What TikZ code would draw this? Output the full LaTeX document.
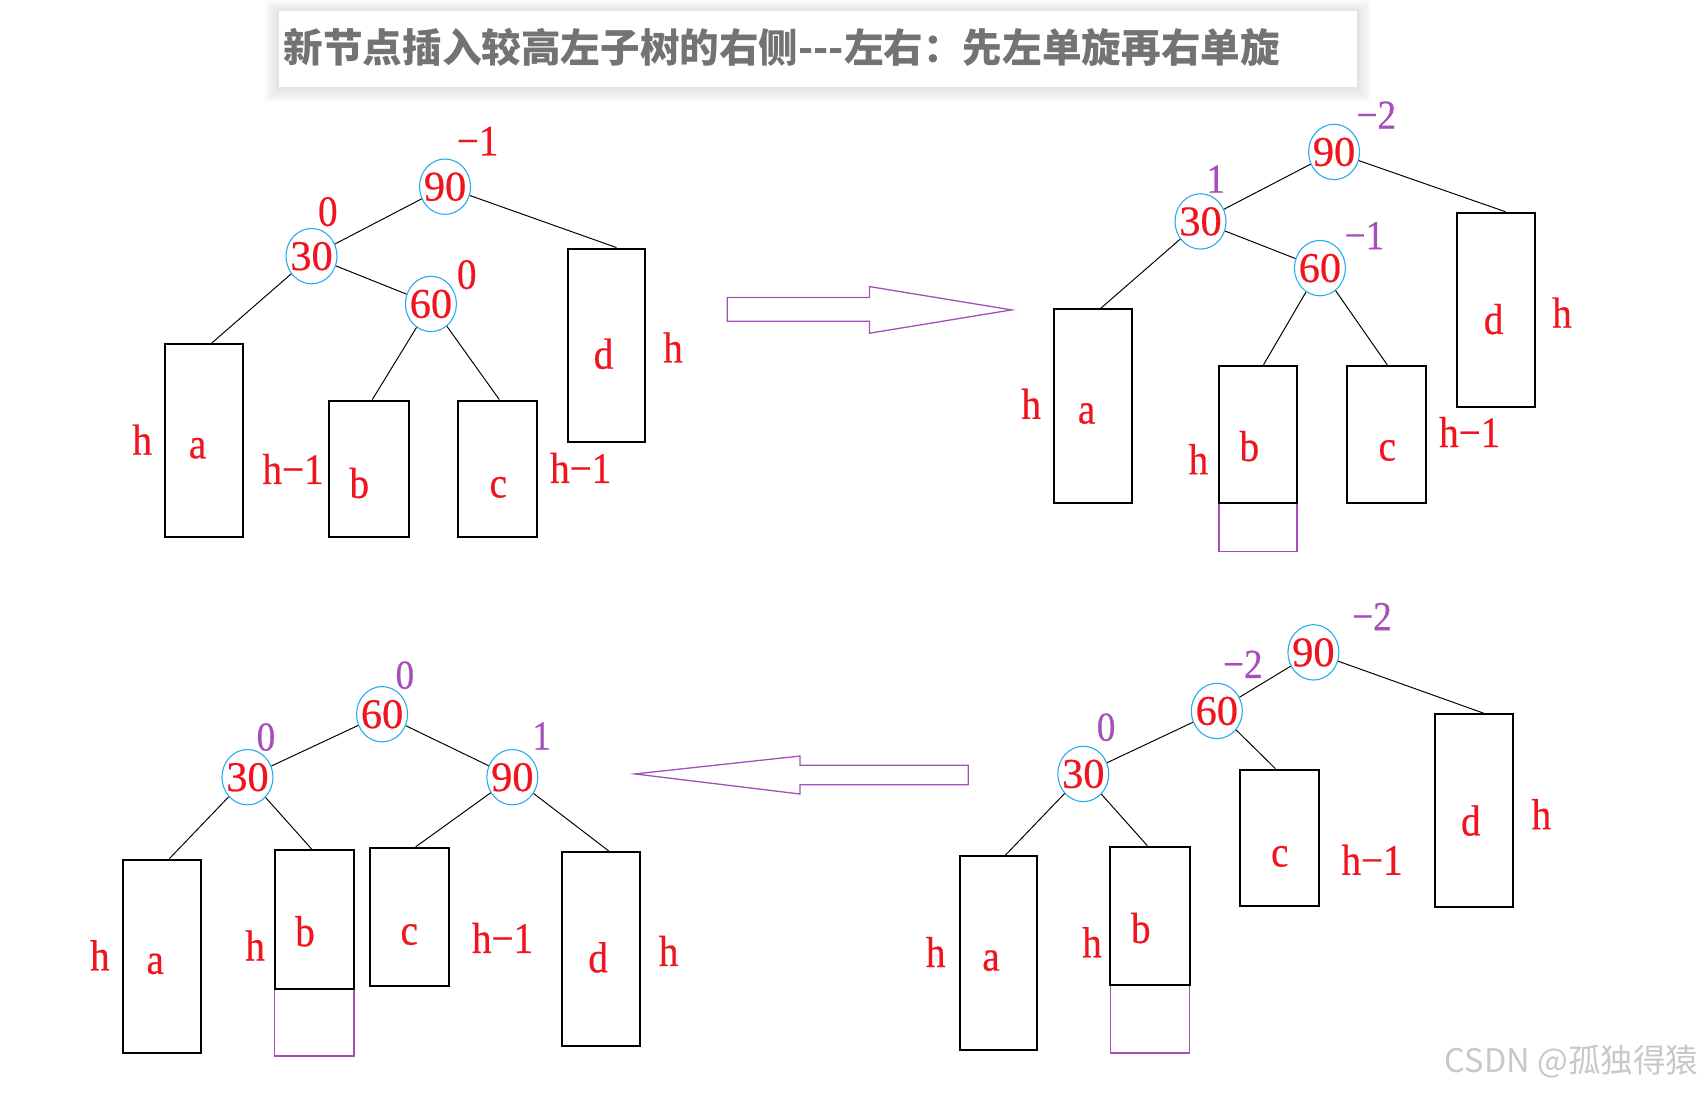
\documentclass[tikz,border=0pt]{standalone}
\usepackage{fontspec}
\newfontfamily\tf{Liberation Serif}[FakeStretch=0.9,FakeBold=0.5]
\newfontfamily\df{Liberation Serif}[FakeBold=0.5]
\newfontfamily\cjk{Noto Sans CJK SC}
\usetikzlibrary{shapes.geometric,calc}
\definecolor{tred}{RGB}{240,20,30}
\definecolor{tblue}{RGB}{40,170,235}
\definecolor{tpurple}{RGB}{165,80,185}
\definecolor{tgray}{RGB}{115,115,115}
\definecolor{wm}{RGB}{200,200,200}
\tikzset{
  num/.style={ellipse, draw=tblue, line width=1pt, minimum width=47, minimum height=51, inner sep=0pt, text=tred, font=\df\fontsize{39}{39}\selectfont},
  sub/.style={draw=black, line width=1.8pt, inner sep=0pt},
  ins/.style={draw=tpurple, line width=1.4pt, inner sep=0pt},
  rl/.style={text=tred, font=\tf\fontsize{40}{40}\selectfont, inner sep=0pt},
  pl/.style={text=tpurple, font=\tf\fontsize{38}{38}\selectfont, inner sep=0pt},
  conn/.style={line width=0.9pt},
  bigarrow/.style={draw=tpurple, line width=1.2pt, line join=miter},
}
\begin{document}
\begin{tikzpicture}[x=1pt,y=-1pt]
\useasboundingbox (0,0) rectangle (1568,1007);
% title with soft shadow
\foreach \s in {1,...,14}
  \fill[black,opacity=0.009] (257-\s,11-\s*0.8) rectangle (1250+\s,81+\s);
\node[fill=white, minimum width=993, minimum height=70, inner sep=0pt] (title) at (753.5,45) {};
\node[anchor=west, inner sep=0pt, text=tgray, font=\cjk\bfseries\fontsize{36.5}{36.5}\selectfont] (titletext) at (261,44) {新节点插入较高左子树的右侧---左右：先左单旋再右单旋};

% ===== Tree 1 (top left) =====
\node[sub, minimum width=72, minimum height=178] (t1a) at (188,406) {};
\node[sub, minimum width=74, minimum height=126] (t1b) at (340,432) {};
\node[sub, minimum width=73, minimum height=126] (t1c) at (458.5,432) {};
\node[sub, minimum width=71, minimum height=178] (t1d) at (558.5,318) {};
\node[num] (t1n90) at (410,172) {\makebox[0pt]{90}};
\node[num] (t1n30) at (287,236) {\makebox[0pt]{30}};
\node[num] (t1n60) at (397,280) {\makebox[0pt]{60}};
\draw[conn] (t1n90) -- (t1n30);
\draw[conn] (t1n90) -- ([xshift=9.5]t1d.north);
\draw[conn] (t1n30) -- ([xshift=7]t1a.north);
\draw[conn] (t1n30) -- (t1n60);
\draw[conn] (t1n60) -- ([xshift=3]t1b.north);
\draw[conn] (t1n60) -- ([xshift=1.5]t1c.north);
\node[rl] (t1f90) at (440,130) {−1};
\node[rl] (t1f30) at (302,195) {0};
\node[rl] (t1f60) at (430,253) {0};
\node[rl] (t1al) at (182,413) {a};
\node[rl] (t1ah) at (131,405) {h};
\node[rl] (t1bh) at (270,432) {h−1};
\node[rl] (t1bl) at (331,445) {b};
\node[rl] (t1cl) at (459,449) {c};
\node[rl] (t1ch) at (535,431) {h−1};
\node[rl] (t1dl) at (556,326) {d};
\node[rl] (t1dh) at (620,320) {h};

% arrow right
\draw[bigarrow] (670,274) -- (801,274) -- (801,264) -- (932,285.5) -- (801,307) -- (801,296) -- (670,296) -- cycle;

% ===== Tree 2 (top right) =====
\node[ins, minimum width=72, minimum height=45] (t2x) at (1159,485.5) {};
\node[sub, minimum width=72, minimum height=178] (t2a) at (1007,374) {};
\node[sub, minimum width=72, minimum height=126] (t2b) at (1159,400) {};
\node[sub, minimum width=73, minimum height=126] (t2c) at (1277.5,400) {};
\node[sub, minimum width=72, minimum height=179] (t2d) at (1378,285.5) {};
\node[num] (t2n90) at (1229,140) {\makebox[0pt]{90}};
\node[num] (t2n30) at (1106,204) {\makebox[0pt]{30}};
\node[num] (t2n60) at (1216,247) {\makebox[0pt]{60}};
\draw[conn] (t2n90) -- (t2n30);
\draw[conn] (t2n90) -- ([xshift=9]t2d.north);
\draw[conn] (t2n30) -- ([xshift=7]t2a.north);
\draw[conn] (t2n30) -- (t2n60);
\draw[conn] (t2n60) -- ([xshift=5]t2b.north);
\draw[conn] (t2n60) -- ([xshift=0.5]t2c.north);
\node[pl] (t2f90) at (1268,106) {−2};
\node[pl] (t2f30) at (1120,165) {1};
\node[pl] (t2f60) at (1257,217) {−1};
\node[rl] (t2ah) at (950,372) {h};
\node[rl] (t2al) at (1001,381) {a};
\node[rl] (t2bh) at (1104,423) {h};
\node[rl] (t2bl) at (1151,411) {b};
\node[rl] (t2cl) at (1278,415) {c};
\node[rl] (t2ch) at (1354,398) {h−1};
\node[rl] (t2dl) at (1376,294) {d};
\node[rl] (t2dh) at (1439,288) {h};

% arrow left
\draw[bigarrow] (892,705) -- (737,705) -- (737,696.5) -- (585,713) -- (737,731.5) -- (737,723) -- (892,723) -- cycle;

% ===== Tree 3 (bottom left) =====
\node[ins, minimum width=73, minimum height=62] (t3x) at (289.5,942) {};
\node[sub, minimum width=72, minimum height=178] (t3a) at (149,881) {};
\node[sub, minimum width=73, minimum height=128] (t3b) at (289.5,847) {};
\node[sub, minimum width=73, minimum height=127] (t3c) at (377.5,844.5) {};
\node[sub, minimum width=72, minimum height=179] (t3d) at (554,874.5) {};
\node[num] (t3n60) at (352,658) {\makebox[0pt]{60}};
\node[num] (t3n30) at (228,716) {\makebox[0pt]{30}};
\node[num] (t3n90) at (472,716) {\makebox[0pt]{90}};
\draw[conn] (t3n60) -- (t3n30);
\draw[conn] (t3n60) -- (t3n90);
\draw[conn] (t3n30) -- ([xshift=7]t3a.north);
\draw[conn] (t3n30) -- ([xshift=-2.5]t3b.north);
\draw[conn] (t3n90) -- ([xshift=5.5]t3c.north);
\draw[conn] (t3n90) -- ([xshift=7]t3d.north);
\node[pl] (t3f60) at (373,622) {0};
\node[pl] (t3f30) at (245,679) {0};
\node[pl] (t3f90) at (499,678) {1};
\node[rl] (t3ah) at (92,880) {h};
\node[rl] (t3al) at (143,888) {a};
\node[rl] (t3bh) at (235,871) {h};
\node[rl] (t3bl) at (281,858) {b};
\node[rl] (t3cl) at (377,861) {c};
\node[rl] (t3ch) at (463,864) {h−1};
\node[rl] (t3dl) at (551,882) {d};
\node[rl] (t3dh) at (616,876) {h};

% ===== Tree 4 (bottom right) =====
\node[ins, minimum width=73, minimum height=63] (t4x) at (1059.5,938.5) {};
\node[sub, minimum width=71, minimum height=178] (t4a) at (919.5,878) {};
\node[sub, minimum width=73, minimum height=127] (t4b) at (1059.5,843.5) {};
\node[sub, minimum width=73, minimum height=126] (t4c) at (1178.5,772) {};
\node[sub, minimum width=72, minimum height=178] (t4d) at (1358,747) {};
\node[num] (t4n90) at (1210,601) {\makebox[0pt]{90}};
\node[num] (t4n60) at (1121,655) {\makebox[0pt]{60}};
\node[num] (t4n30) at (998,713) {\makebox[0pt]{30}};
\draw[conn] (t4n90) -- (t4n60);
\draw[conn] (t4n90) -- ([xshift=9]t4d.north);
\draw[conn] (t4n60) -- (t4n30);
\draw[conn] (t4n60) -- ([xshift=-3.5]t4c.north);
\draw[conn] (t4n30) -- ([xshift=6.5]t4a.north);
\draw[conn] (t4n30) -- ([xshift=-2.5]t4b.north);
\node[pl] (t4f90) at (1264,568) {−2};
\node[pl] (t4f60) at (1145,612) {−2};
\node[pl] (t4f30) at (1019,670) {0};
\node[rl] (t4ah) at (862,877) {h};
\node[rl] (t4al) at (913,885) {a};
\node[rl] (t4bh) at (1006,868) {h};
\node[rl] (t4bl) at (1051,855) {b};
\node[rl] (t4cl) at (1179,789) {c};
\node[rl] (t4ch) at (1264,792) {h−1};
\node[rl] (t4dl) at (1355,756) {d};
\node[rl] (t4dh) at (1420,750) {h};

% watermark
\node[anchor=east, inner sep=0pt, text=wm, font=\cjk\fontsize{30}{30}\selectfont] (wmark) at (1565,978) {CSDN @孤独得猿};
\end{tikzpicture}
\end{document}
